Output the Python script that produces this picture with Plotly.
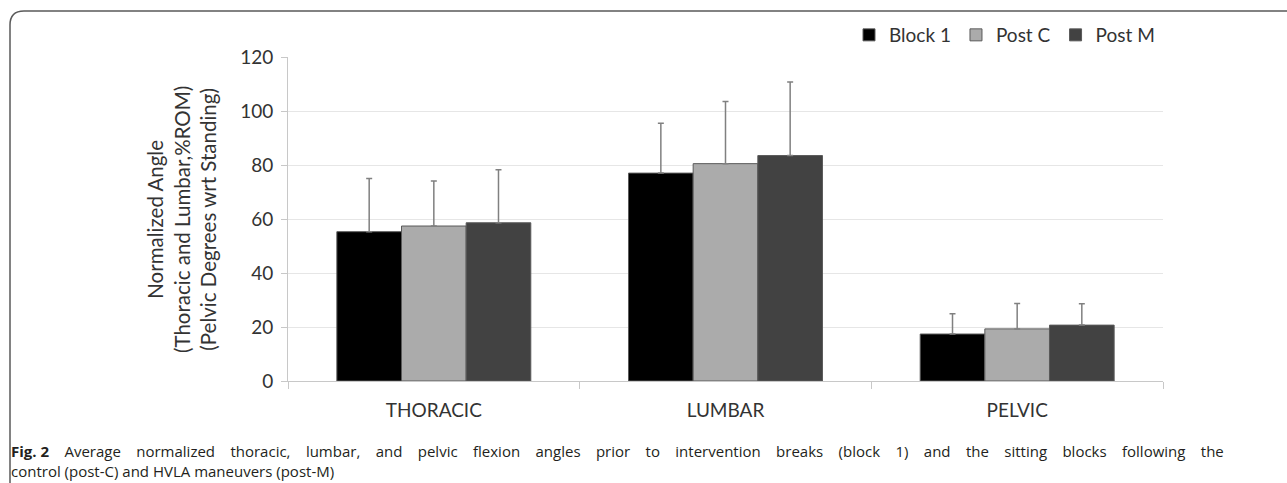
import plotly.graph_objects as go

W, H = 1287, 483

categories = ["THORACIC", "LUMBAR", "PELVIC"]
series_names = ["Block 1", "Post C", "Post M"]
block1 = [55.3, 77.0, 17.4]
post_c = [57.4, 80.5, 19.3]
post_m = [58.6, 83.5, 20.7]
block1_sd = [19.7, 18.5, 7.5]
post_c_sd = [16.7, 23.0, 9.4]
post_m_sd = [19.6, 27.2, 7.9]
y_ticks = [0, 20, 40, 60, 80, 100, 120]

caption_line1 = ("Average normalized thoracic, lumbar, and pelvic flexion angles prior to "
                 "intervention breaks (block 1) and the sitting blocks following the")
caption_line2 = "control (post-C) and HVLA maneuvers (post-M)"

colors = ["#000000", "#ababab", "#424242"]
values = [block1, post_c, post_m]
sds = [block1_sd, post_c_sd, post_m_sd]

FONT = "Lato"
TXT = "#333333"


def px(x):
    return x / W


def py(y):
    return 1 - y / H


fig = go.Figure()
for name, vals, sd, col in zip(series_names, values, sds, colors):
    fig.add_trace(go.Bar(
        x=categories, y=vals, name=name,
        marker=dict(color=col, line=dict(color="#5a5a5a", width=1)),
        error_y=dict(type="data", array=sd, symmetric=False, arrayminus=[0] * len(sd),
                     color="#808080", thickness=1.5, width=3),
    ))

fig.update_layout(
    width=W, height=H,
    margin=dict(l=0, r=0, t=0, b=0),
    paper_bgcolor="white", plot_bgcolor="white",
    barmode="group", bargap=0.335, bargroupgap=0,
    font=dict(family=FONT, size=19, color=TXT),
    legend=dict(orientation="h", x=px(1160), xanchor="right", y=py(35), yanchor="middle",
                font=dict(family=FONT, size=19, color=TXT), bgcolor="rgba(0,0,0,0)",
                traceorder="normal", itemwidth=30),
    xaxis=dict(domain=[px(288), px(1163)], type="category",
               showline=True, linecolor="#c8c8c8", linewidth=1,
               ticks="outside", tickson="boundaries", ticklen=7, tickcolor="#c8c8c8",
               showgrid=False, automargin=False, ticklabelstandoff=12,
               tickfont=dict(family=FONT, size=19, color=TXT)),
    yaxis=dict(domain=[py(381), py(57)], range=[0, 120], tickvals=y_ticks,
               showline=True, linecolor="#c8c8c8", linewidth=1,
               ticks="outside", ticklen=6, tickcolor="#c8c8c8",
               showgrid=True, gridcolor="#e6e6e6", gridwidth=1, zeroline=False,
               automargin=False, ticklabelstandoff=4,
               tickfont=dict(family=FONT, size=19, color=TXT)),
)

fig.add_annotation(
    text="Normalized Angle<br>(Thoracic and Lumbar,%ROM)<br>(Pelvic Degrees wrt Standing)",
    xref="paper", yref="paper", x=px(181), y=py(220), xanchor="center", yanchor="middle",
    textangle=-90, showarrow=False, font=dict(family=FONT, size=20.5, color=TXT),
)

# justified first caption line: widen word gaps with en + thin + hair spaces
gap = " \u2002\u2009\u200A"
line1 = "<b>Fig. 2</b>" + gap + gap.join(caption_line1.split(" "))
fig.add_annotation(
    text=line1 + "<br>" + caption_line2, xref="paper", yref="paper", x=px(9), y=py(461),
    xanchor="left", yanchor="middle", align="left", showarrow=False,
    font=dict(family="Open Sans", size=15, color="#231f20"),
)

r = 14
fig.add_shape(
    type="path", xref="paper", yref="paper",
    path=(f"M {px(10)},{py(484)} L {px(10)},{py(11 + r)} "
          f"Q {px(10)},{py(11)} {px(10 + r)},{py(11)} L {px(1290)},{py(11)}"),
    line=dict(color="#5a5a5a", width=1.5),
)

fig.write_html("out.html")
